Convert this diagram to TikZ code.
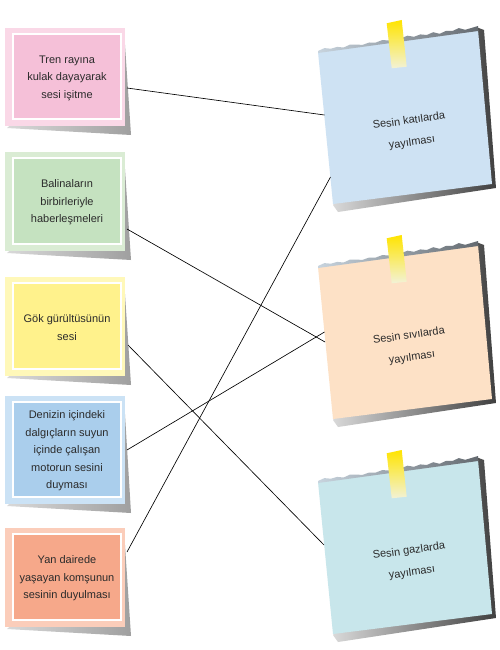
\documentclass[tikz,border=0pt]{standalone}
\usepackage{fontspec}
\setmainfont{Liberation Sans}
\definecolor{txt}{HTML}{2B2B2B}
\definecolor{pinkO}{RGB}{250,216,231}
\definecolor{pinkI}{RGB}{245,192,216}
\definecolor{greenO}{RGB}{218,236,212}
\definecolor{greenI}{RGB}{197,226,192}
\definecolor{yelO}{RGB}{255,248,185}
\definecolor{yelI}{RGB}{255,242,140}
\definecolor{blueO}{RGB}{203,226,245}
\definecolor{blueI}{RGB}{170,206,236}
\definecolor{salO}{RGB}{251,205,186}
\definecolor{salI}{RGB}{246,168,138}
\definecolor{note1}{RGB}{206,226,243}
\definecolor{note2}{RGB}{253,225,198}
\definecolor{note3}{RGB}{200,230,235}
\definecolor{torn1}{RGB}{200,212,222}
\definecolor{torn2}{RGB}{100,106,112}
\definecolor{tapeY}{RGB}{255,228,0}
\definecolor{tapeW}{RGB}{242,242,215}
\tikzset{
  conn/.style={draw=black, line width=0.65pt},
  boxtext/.style={align=center, font=\fontsize{11}{17.5}\selectfont, text=txt},
  notetext/.style={align=center, font=\fontsize{11}{22}\selectfont, text=txt, rotate=8},
}
\newcommand\leftbox[6]{%
  \shade[left color=gray!30, right color=gray!75] (124,#2+2) -- (131,#3+9) -- (7,#3+2) -- cycle;
  \fill[#4] (5,#2) rectangle (125,#3);
  \draw[white, line width=1.5pt, fill=#5] (13,#2+6) rectangle (121,#3-7);
  \node[boxtext] (#1) at (67,{(#2+#3)/2+1}) {#6};
}
\newcommand\mynote[4]{%
  \begin{scope}[shift={(0,#1)}]
    \shade[left color=gray!30, right color=black!75] (476,27) -- (484,30) -- (496,188) -- (338,212) -- (333,205) -- cycle;
    \fill[#2] (318,52) -- (478,30) -- (492,184) -- (333,204) -- cycle;
    \shade[left color=torn1, right color=torn2]
      (318,51) -- (324.4,48.1) -- (330.8,48.7) -- (337.2,46.9) -- (343.6,47.5) -- (350,44.6) --
      (356.4,44.7) -- (362.8,44.8) -- (369.2,42.5) -- (375.6,42.6) -- (382,40.2) -- (388.4,40.3) --
      (394.8,40.4) -- (401.2,38.1) -- (407.6,35.7) -- (414,36.8) -- (420.4,34.4) -- (426.8,35) --
      (433.2,32.2) -- (439.6,33.8) -- (446,30.9) -- (452.4,31) -- (458.8,28.1) -- (465.2,29.8) --
      (471.6,27.9) -- (478,26) -- (478,31) -- (318,53) -- cycle;
    \shade[top color=tapeY, bottom color=tapeW] (386.7,23.3) -- (401.7,20) -- (406.7,66.7) -- (391.7,68.3) -- cycle;
    \node[notetext] (#3) at (410.5,132) {#4};
  \end{scope}}
\begin{document}
\begin{tikzpicture}[x=1pt,y=-1pt]
  \useasboundingbox[fill=white] (0,0) rectangle (499,650);
  \leftbox{b1}{28}{126}{pinkO}{pinkI}{Tren rayına\\kulak dayayarak\\sesi işitme}
  \leftbox{b2}{152}{251}{greenO}{greenI}{Balinaların\\birbirleriyle\\haberleşmeleri}
  \leftbox{b3}{277}{376}{yelO}{yelI}{Gök gürültüsünün\\sesi}
  \leftbox{b4}{396}{504}{blueO}{blueI}{Denizin içindeki\\dalgıçların suyun\\içinde çalışan\\motorun sesini\\duyması}
  \leftbox{b5}{528}{627}{salO}{salI}{Yan dairede\\yaşayan komşunun\\sesinin duyulması}
  \mynote{0}{note1}{n1}{Sesin katılarda\\yayılması}
  \mynote{215}{note2}{n2}{Sesin sıvılarda\\yayılması}
  \mynote{430}{note3}{n3}{Sesin gazlarda\\yayılması}
  \coordinate (b1p) at (127,88);
  \coordinate (b2p) at (127,229);
  \coordinate (b3p) at (128,345);
  \coordinate (b4p) at (127,450);
  \coordinate (b5p) at (127,552);
  \coordinate (n1a) at (324.5,115);
  \coordinate (n1b) at (330.5,177);
  \coordinate (n2a) at (325,342);
  \coordinate (n2b) at (324.5,332);
  \coordinate (n3a) at (324,545);
  \draw[conn] (b1p) -- (n1a);
  \draw[conn] (b2p) -- (n2a);
  \draw[conn] (b3p) -- (n3a);
  \draw[conn] (b4p) -- (n2b);
  \draw[conn] (b5p) -- (n1b);
\end{tikzpicture}
\end{document}
